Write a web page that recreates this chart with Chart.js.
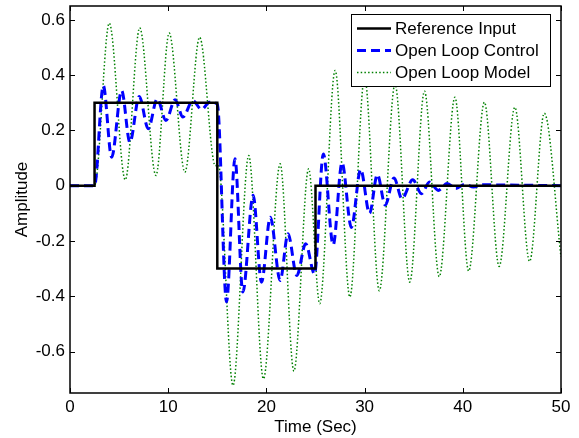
<!DOCTYPE html>
<html>
<head>
<meta charset="utf-8">
<script src="https://cdn.jsdelivr.net/npm/chart.js"></script>
<style>
html, body { margin: 0; padding: 0; background: #fff; }
</style>
</head>
<body>
<canvas id="myChart" width="579" height="438"></canvas>
<script>
// values (time in sec, amplitude)
const refT = [0, 2.5, 2.5, 15, 15, 25, 25, 50];
const refY = [0, 0, 0.3, 0.3, -0.3, -0.3, 0, 0];

const ctrlT = [0, 2.5, 3.39, 4.24, 5.26, 6.1, 7.05, 7.97, 8.88, 9.77, 10.7, 11.5, 12.5, 13.4, 14.2, 15.0,
  15.94, 16.8, 17.6, 18.65, 19.5, 20.4, 21.4, 22.2, 23.1, 24.0, 24.9,
  25.8, 26.8, 27.7, 28.65, 29.6, 30.5, 31.3, 32.1, 33.0, 33.8, 34.9, 35.8, 36.6, 37.5, 38.4, 39.3, 40.2, 41.1, 42.0, 50];
const ctrlY = [0, 0, 0.362, 0.103, 0.344, 0.157, 0.323, 0.206, 0.314, 0.236, 0.311, 0.248, 0.308, 0.276, 0.302, 0.295,
  -0.42, 0.097, -0.385, -0.035, -0.349, -0.114, -0.343, -0.174, -0.325, -0.21, -0.319,
  0.115, -0.214, 0.083, -0.151, 0.059, -0.1, 0.04, -0.07, 0.028, -0.047, 0.021, -0.029, 0.013, -0.017, 0.008, -0.01, 0.005, -0.005, 0.003, 0];

const modelT = [0, 2.5, 4.0, 5.63, 7.1, 8.75, 10.1, 11.7, 13.2, 14.8, 15.1,
  16.6, 18.2, 19.7, 21.4, 22.8, 24.3, 25.43,
  27.0, 28.5, 30.0, 31.5, 33.1, 34.6, 36.1, 37.6, 39.2, 40.6, 42.2, 43.7, 45.3, 46.8, 48.3, 50];
const modelY = [0, 0, 0.588, 0.021, 0.571, 0.037, 0.552, 0.049, 0.537, 0.072, 0.076,
  -0.723, 0.109, -0.699, 0.079, -0.671, 0.061, -0.427,
  0.417, -0.403, 0.392, -0.38, 0.367, -0.349, 0.342, -0.329, 0.32, -0.309, 0.302, -0.292, 0.284, -0.274, 0.262, -0.258];

const xTicks = [0, 10, 20, 30, 40, 50];
const yTicks = [-0.6, -0.4, -0.2, 0, 0.2, 0.4, 0.6];

const FONT = "'Liberation Sans', Arial, Helvetica, sans-serif";

function pts(t, y) {
  return t.map((v, i) => ({ x: v, y: y[i] }));
}

const frame = {
  id: 'frame',
  afterDatasetsDraw(chart) {
    const ctx = chart.ctx, a = chart.chartArea;
    const xs = chart.scales.x, ys = chart.scales.y;
    ctx.save();
    ctx.strokeStyle = '#000';
    ctx.lineWidth = 1;
    ctx.beginPath();
    xs.ticks.forEach(t => {
      const px = Math.round(xs.getPixelForValue(t.value)) + 0.5;
      ctx.moveTo(px, a.bottom); ctx.lineTo(px, a.bottom - 5);
      ctx.moveTo(px, a.top); ctx.lineTo(px, a.top + 5);
    });
    ys.ticks.forEach(t => {
      const py = Math.round(ys.getPixelForValue(t.value)) + 0.5;
      ctx.moveTo(a.left, py); ctx.lineTo(a.left + 5, py);
      ctx.moveTo(a.right, py); ctx.lineTo(a.right - 5, py);
    });
    ctx.stroke();
    ctx.lineWidth = 1.5;
    ctx.strokeRect(a.left, a.top, a.right - a.left, a.bottom - a.top);

    // legend box inside the axes
    const bx = 351, by = 14, bw = 199, bh = 72;
    ctx.fillStyle = '#fff';
    ctx.fillRect(bx, by, bw, bh);
    ctx.lineWidth = 1;
    ctx.strokeRect(bx + 0.5, by + 0.5, bw, bh);
    ctx.font = '17px ' + FONT;
    ctx.textBaseline = 'middle';
    ctx.textAlign = 'left';
    chart.data.datasets.forEach((ds, i) => {
      const y = by + 14.5 + i * 22;
      ctx.beginPath();
      ctx.strokeStyle = ds.borderColor;
      ctx.lineWidth = ds.borderWidth;
      ctx.setLineDash(ds.borderDash || []);
      ctx.moveTo(bx + 6, y);
      ctx.lineTo(bx + 40, y);
      ctx.stroke();
      ctx.setLineDash([]);
      ctx.fillStyle = '#000';
      ctx.fillText(ds.label, bx + 44, y + 1);
    });
    ctx.restore();
  }
};

new Chart("myChart", {
  type: "line",
  data: {
    datasets: [{
      label: "Reference Input",
      data: pts(refT, refY),
      borderColor: "#000",
      borderWidth: 2.5,
      pointRadius: 0,
      tension: 0,
      fill: false
    }, {
      label: "Open Loop Control",
      data: pts(ctrlT, ctrlY),
      borderColor: "#0000ff",
      borderWidth: 3,
      borderDash: [9, 5],
      pointRadius: 0,
      cubicInterpolationMode: 'monotone',
      fill: false
    }, {
      label: "Open Loop Model",
      data: pts(modelT, modelY),
      borderColor: "rgb(0,128,0)",
      borderWidth: 1.5,
      borderDash: [1.5, 2.2],
      pointRadius: 0,
      cubicInterpolationMode: 'monotone',
      fill: false
    }]
  },
  options: {
    responsive: false,
    animation: false,
    devicePixelRatio: 1,
    layout: { padding: { left: 0, top: 6, right: 18, bottom: 0 } },
    plugins: {
      legend: { display: false },
      tooltip: { enabled: false }
    },
    scales: {
      x: {
        type: 'linear',
        min: 0, max: 50,
        afterBuildTicks: s => { s.ticks = xTicks.map(v => ({ value: v })); },
        afterFit: s => { s.height = 45; s.paddingLeft = 0; s.paddingRight = 0; },
        grid: { display: false, drawTicks: false },
        border: { display: false },
        ticks: { color: '#000', font: { family: FONT, size: 17 }, padding: 4, maxRotation: 0 },
        title: { display: true, text: 'Time (Sec)', color: '#000', font: { family: FONT, size: 17 }, padding: { top: 0, bottom: 0 } }
      },
      y: {
        type: 'linear',
        min: -0.75, max: 0.65,
        afterBuildTicks: s => { s.ticks = yTicks.map(v => ({ value: v })); },
        afterFit: s => { s.width = 70; s.paddingTop = 0; s.paddingBottom = 0; },
        grid: { display: false, drawTicks: false },
        border: { display: false },
        ticks: {
          color: '#000', font: { family: FONT, size: 17 }, padding: 5,
          callback: v => (Math.abs(v) < 1e-9 ? '0' : v.toFixed(1))
        },
        title: { display: true, text: 'Amplitude', color: '#000', font: { family: FONT, size: 17 }, padding: { top: 12, bottom: 0 } }
      }
    }
  },
  plugins: [frame]
});
</script>
</body>
</html>
